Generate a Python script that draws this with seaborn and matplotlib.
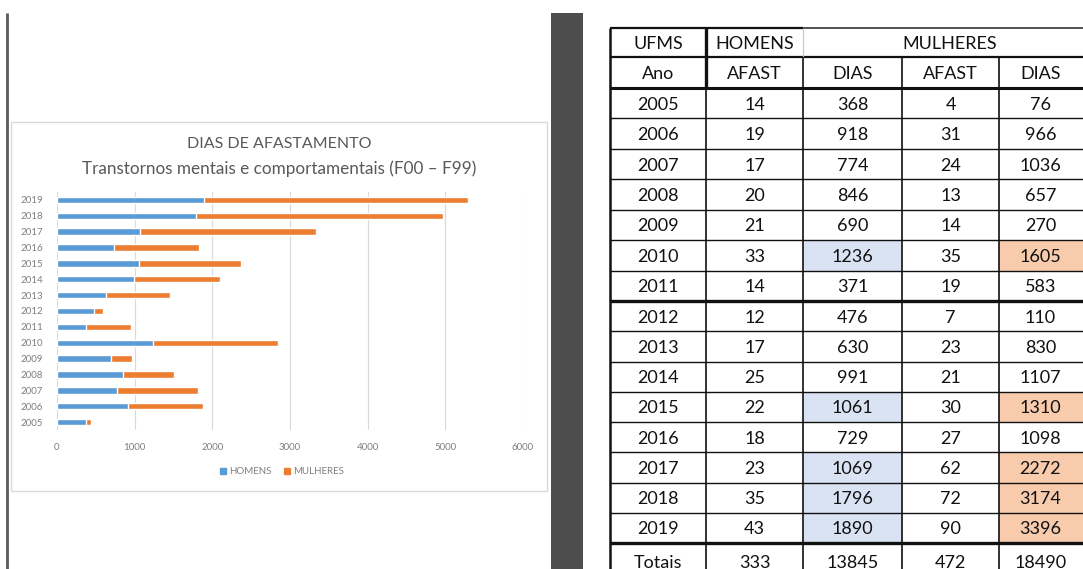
import matplotlib
matplotlib.use("Agg")
import matplotlib.pyplot as plt
from matplotlib.patches import Rectangle, Patch
import seaborn as sns

# ---- data ----
years = [2005, 2006, 2007, 2008, 2009, 2010, 2011, 2012, 2013, 2014, 2015, 2016, 2017, 2018, 2019]
homens_afast = [14, 19, 17, 20, 21, 33, 14, 12, 17, 25, 22, 18, 23, 35, 43]
homens_dias = [368, 918, 774, 846, 690, 1236, 371, 476, 630, 991, 1061, 729, 1069, 1796, 1890]
mulheres_afast = [4, 31, 24, 13, 14, 35, 19, 7, 23, 21, 30, 27, 62, 72, 90]
mulheres_dias = [76, 966, 1036, 657, 270, 1605, 583, 110, 830, 1107, 1310, 1098, 2272, 3174, 3396]
highlight_years = [2010, 2015, 2017, 2018, 2019]
x_ticks = [0, 1000, 2000, 3000, 4000, 5000, 6000]

W, H = 1083, 569
BLUE = "#5B9BD5"
ORANGE = "#ED7D31"
GREY_TXT = "#595959"

sns.set_theme(style="white")
plt.rcParams["font.family"] = ["Lato", "DejaVu Sans"]

fig = plt.figure(figsize=(W / 100, H / 100), dpi=100)
fig.patch.set_facecolor("white")

# page-level canvas in pixel coordinates
bg = fig.add_axes([0, 0, 1, 1])
bg.set_xlim(0, W)
bg.set_ylim(H, 0)
bg.axis("off")

# page margin rule and dark separator band
bg.plot([7, 7], [13, H], color="#5a5a5a", lw=2, solid_capstyle="butt")
bg.add_patch(Rectangle((551, 13), 32, H - 13, facecolor="#4d4d4d", edgecolor="none"))

# chart frame
bg.add_patch(Rectangle((11, 122), 536, 369, facecolor="white", edgecolor="#d9d9d9", lw=1))
bg.text(279, 144, "DIAS DE AFASTAMENTO", ha="center", va="center", fontsize=11.5, color=GREY_TXT)
bg.text(279, 169, "Transtornos mentais e comportamentais (F00 \u2013 F99)", ha="center",
        va="center", fontsize=12.3, color=GREY_TXT)

# ---- stacked horizontal bar chart ----
ax = fig.add_axes([57 / W, 1 - 430 / H, (523 - 57) / W, (430 - 192) / H])
labels = [str(y) for y in years]
order = labels[::-1]
totals = [h + m for h, m in zip(homens_dias, mulheres_dias)]
sns.barplot(x=totals, y=labels, order=order, color=ORANGE, width=0.4, orient="h",
            saturation=1, ax=ax, zorder=3)
sns.barplot(x=homens_dias, y=labels, order=order, color=BLUE, width=0.4, orient="h",
            saturation=1, ax=ax, zorder=4)
ax.set_xlim(0, 6000)
ax.set_xticks(x_ticks)
ax.set_xticklabels([str(t) for t in x_ticks])
ax.grid(axis="x", color="#d9d9d9", lw=0.8, zorder=0)
ax.set_axisbelow(True)
for s in ax.spines.values():
    s.set_visible(False)
ax.set_xlabel("")
ax.set_ylabel("")
ax.tick_params(axis="x", length=0, pad=9, labelsize=7, labelcolor="#7f7f7f")
ax.tick_params(axis="y", length=0, pad=10, labelsize=7, labelcolor="#7f7f7f")
ax.set_facecolor("none")

fig.legend(handles=[Patch(color=BLUE, label="HOMENS"), Patch(color=ORANGE, label="MULHERES")],
           loc="center", bbox_to_anchor=(282 / W, 1 - 472 / H), ncol=2, frameon=False,
           fontsize=7, labelcolor="#7f7f7f", handlelength=0.6, handleheight=0.6,
           handletextpad=0.3, columnspacing=1.3)

# ---- data table ----
col_x = [610, 706, 803, 902, 999, 1096]
row_y = [28, 57, 88]
for i in range(7):
    row_y.append(88 + (i + 1) * (301 - 88) / 7)
for i in range(8):
    row_y.append(301 + (i + 1) * (543 - 301) / 8)
row_y.append(574)

LIGHT_BLUE = "#DAE3F3"
LIGHT_ORANGE = "#F8CBAD"
FS = 13
DY = 1.5  # optical centring of digits within a row

# highlighted cells
for k, yr in enumerate(years):
    if yr in highlight_years:
        r0, r1 = row_y[2 + k], row_y[3 + k]
        bg.add_patch(Rectangle((col_x[2], r0), col_x[3] - col_x[2], r1 - r0,
                               facecolor=LIGHT_BLUE, edgecolor="none"))
        bg.add_patch(Rectangle((col_x[4], r0), col_x[5] - col_x[4], r1 - r0,
                               facecolor=LIGHT_ORANGE, edgecolor="none"))

def hline(y, x0, x1, lw=1.0, c="#111111"):
    bg.plot([x0, x1], [y, y], color=c, lw=lw, solid_capstyle="butt")

def vline(x, y0, y1, lw=1.0, c="#111111"):
    bg.plot([x, x], [y0, y1], color=c, lw=lw, solid_capstyle="butt")

# horizontal rules
hline(row_y[0], col_x[0], col_x[2], lw=1.6)
hline(row_y[0], col_x[2], col_x[5], lw=1.2, c="#333333")
hline(row_y[1], col_x[0], col_x[5], lw=1.6)
hline(row_y[2], col_x[0], col_x[5], lw=2.2)
for k in range(3, len(row_y) - 1):
    thick = k in (9, 17)
    hline(row_y[k], col_x[0], col_x[5], lw=2.4 if thick else 1.0)

# vertical rules
vline(col_x[0], row_y[0], H, lw=1.8)
vline(col_x[1], row_y[0], row_y[2], lw=2.4)
vline(col_x[1], row_y[2], H, lw=1.2)
vline(col_x[2], row_y[0], row_y[1], lw=0.8, c="#c8c8c8")
vline(col_x[2], row_y[1], H, lw=1.2)
vline(col_x[3], row_y[1], H, lw=1.2)
vline(col_x[4], row_y[1], H, lw=1.2)

def cx(c):
    return (col_x[c] + col_x[c + 1]) / 2

def cy(r):
    return (row_y[r] + row_y[r + 1]) / 2 + DY

TXT = "#111111"
bg.text(cx(0), cy(0), "UFMS", ha="center", va="center", fontsize=FS, color=TXT)
bg.text(cx(1), cy(0), "HOMENS", ha="center", va="center", fontsize=FS, color=TXT)
bg.text((col_x[2] + col_x[5]) / 2, cy(0), "MULHERES", ha="center", va="center",
        fontsize=FS, color=TXT)
for c, t in enumerate(["Ano", "AFAST", "DIAS", "AFAST", "DIAS"]):
    bg.text(cx(c) - (7 if c == 4 else 0), cy(1), t, ha="center", va="center", fontsize=FS,
            color=TXT)

for k, yr in enumerate(years):
    vals = [yr, homens_afast[k], homens_dias[k], mulheres_afast[k], mulheres_dias[k]]
    for c, v in enumerate(vals):
        bg.text(cx(c) - (7 if c == 4 else 0), cy(2 + k), str(v), ha="center", va="center",
                fontsize=FS, color=TXT)

totais = ["Totais", sum(homens_afast), sum(homens_dias), sum(mulheres_afast), sum(mulheres_dias)]
for c, v in enumerate(totais):
    bg.text(cx(c) - (7 if c == 4 else 0), row_y[-2] + 20, str(v), ha="center", va="center",
            fontsize=FS, color=TXT)

fig.savefig("out.png", dpi=100, facecolor="white")
